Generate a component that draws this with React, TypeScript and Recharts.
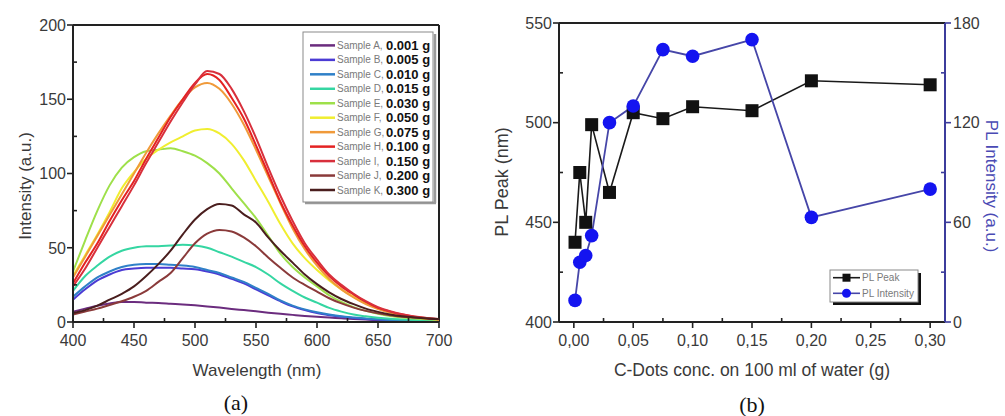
import React from 'react';
import { LineChart, ComposedChart, Line, XAxis, YAxis, ReferenceLine } from 'recharts';

// ---------- Panel (a): PL spectra ----------
const wavelengths = [400, 410, 420, 430, 440, 450, 460, 470, 480, 490, 500, 510, 520, 530, 540, 550, 560, 570, 580, 590, 600, 610, 620, 630, 640, 650, 660, 670, 680, 690, 700];
const sampleA = [7, 9, 11, 12.5, 13.5, 13.5, 13, 12.8, 12.3, 11.8, 11.2, 10.5, 9.7, 8.8, 8, 7.2, 6.3, 5.5, 4.8, 4.1, 3.5, 3, 2.5, 2, 1.6, 1.3, 1, 0.8, 0.6, 0.5, 0.4];
const sampleB = [15, 22, 28, 32, 35, 36, 36.5, 36.5, 36.5, 36, 35.5, 34, 32, 29, 26, 22, 18, 14, 10.5, 8, 6, 4.6, 3.5, 2.7, 2.1, 1.6, 1.3, 1, 0.8, 0.6, 0.5];
const sampleC = [17, 24, 30, 34, 37, 38.5, 39, 39, 38.5, 38, 37, 35, 33, 30, 27, 23, 19, 14.5, 11, 8.5, 6.5, 5, 3.8, 3, 2.3, 1.8, 1.4, 1.1, 0.9, 0.7, 0.6];
const sampleD = [21, 31, 38, 44, 48, 50, 51, 51, 51.5, 52, 51.5, 50, 47, 44, 40.5, 37, 32, 26, 21, 16.5, 13, 9.5, 7, 5, 3.8, 2.9, 2.2, 1.7, 1.3, 1, 0.8];
const sampleE = [34, 55, 75, 92, 104, 111, 115, 116, 117, 115, 112, 107, 100, 90, 80, 70, 58, 46, 37, 30, 24, 18, 13.5, 10, 7.5, 5.5, 4, 3, 2.3, 1.8, 1.4];
const sampleF = [31, 45, 59, 74, 90, 101, 110, 116, 121, 125, 129, 130, 127, 120, 109, 95, 81, 66, 53, 43, 35, 28, 22, 17, 12.5, 9, 6.5, 4.6, 3.3, 2.4, 1.8];
const sampleG = [30, 44, 58, 72, 86, 100, 114, 127, 139, 150, 158, 161, 157, 147, 133, 116, 98, 80, 63, 49, 38, 29, 22, 16.5, 12, 8.7, 6.3, 4.5, 3.2, 2.3, 1.6];
const sampleH = [26, 40, 53, 68, 82, 95, 110, 124, 138, 150, 161, 167, 163, 151, 137, 119, 100, 81, 65, 51, 40, 31, 24, 18.5, 13.5, 9.5, 7, 5, 3.6, 2.6, 1.8];
const sampleI = [24, 36, 50, 64, 78, 92, 107, 121, 135, 148, 160, 169, 167, 157, 142, 124, 104, 85, 68, 53, 42, 32, 25, 19, 14, 10, 7.2, 5.2, 3.7, 2.7, 1.9];
const sampleJ = [5, 7, 9, 11.5, 14, 17, 21, 27, 33, 43, 53, 59.5, 62, 61, 57, 51, 43.5, 36.5, 30, 25, 20.5, 16, 12.5, 9.7, 7.5, 5.8, 4.5, 3.6, 3, 2.5, 2.1];
const sampleK = [6, 8, 11, 15, 19, 24, 31, 39, 48, 59, 69, 76, 79.5, 78.5, 72.5, 67, 57, 48, 40, 32, 25.5, 20, 15.5, 12, 9, 6.8, 5, 3.8, 3, 2.4, 2];

const sampleKeys = ['A', 'B', 'C', 'D', 'E', 'F', 'G', 'H', 'I', 'J', 'K'];
const sampleSeries = [sampleA, sampleB, sampleC, sampleD, sampleE, sampleF, sampleG, sampleH, sampleI, sampleJ, sampleK];
const sampleNames = ['Sample A,', 'Sample B,', 'Sample C,', 'Sample D,', 'Sample E,', 'Sample F,', 'Sample G,', 'Sample H,', 'Sample I,', 'Sample J,', 'Sample K,'];
const sampleMasses = ['0.001 g', '0.005 g', '0.010 g', '0.015 g', '0.030 g', '0.050 g', '0.075 g', '0.100 g', '0.150 g', '0.200 g', '0.300 g'];
const sampleColors = ['#6b2c7e', '#4b3bd4', '#2f80c8', '#35d6a2', '#9ee04a', '#f0ee30', '#f09a3a', '#e42222', '#d8303c', '#8a3a3a', '#4a1e1e'];

const wlTicks = [400, 425, 450, 475, 500, 525, 550, 575, 600, 625, 650, 675, 700];
const intTicks = [0, 25, 50, 75, 100, 125, 150, 175, 200];

// ---------- Panel (b): PL peak / intensity ----------
const concentrations = [0.001, 0.005, 0.010, 0.015, 0.030, 0.050, 0.075, 0.100, 0.150, 0.200, 0.300];
const plPeak = [440, 475, 450, 499, 465, 505, 502, 508, 506, 521, 519];
const plIntensity = [13, 36, 40, 52, 120, 130, 164, 160, 170, 63, 80];
const concTicks = [0, 0.025, 0.05, 0.075, 0.1, 0.125, 0.15, 0.175, 0.2, 0.225, 0.25, 0.275, 0.3];
const peakTicks = [400, 425, 450, 475, 500, 525, 550];
const plIntTicks = [0, 30, 60, 90, 120, 150, 180];

const spectraData = wavelengths.map((wl, i) => {
  const row: any = { wl };
  sampleKeys.forEach((k, s) => { row[k] = sampleSeries[s][i]; });
  return row;
});
const plData = concentrations.map((c, i) => ({ c, peak: plPeak[i], inten: plIntensity[i] }));

const FONT = 'Arial, "Liberation Sans", Helvetica, sans-serif';
const SERIF = '"Liberation Serif", "Times New Roman", serif';
const AXIS = '#222';
const TEXT = '#3a3a3a';
const BLUE_AXIS = '#3c3c9c';
const TICK_SIZE = 6;
const TICK_MARGIN = 3;

function makeTick(orient: string, isMajor: (v: number) => boolean, fmt: (v: number) => string, lineColor: string = AXIS) {
  return function Tick(props: any) {
    const { x, y, payload } = props;
    const v = payload.value;
    const major = isMajor(v);
    const off = TICK_SIZE + TICK_MARGIN;
    if (orient === 'bottom') {
      const ay = y - off;
      return (
        <g>
          <line x1={x} x2={x} y1={major ? ay : ay - 4} y2={major ? ay + 6 : ay} stroke={lineColor} strokeWidth={1.6} />
          {major ? <text x={x} y={ay + 24} textAnchor="middle" fontSize={16} fill={TEXT} fontFamily={FONT}>{fmt(v)}</text> : null}
        </g>
      );
    }
    if (orient === 'left') {
      const ax = x + off;
      return (
        <g>
          <line y1={y} y2={y} x1={major ? ax - 6 : ax} x2={major ? ax : ax + 4} stroke={lineColor} strokeWidth={1.6} />
          {major ? <text x={ax - 7} y={y} dy="0.36em" textAnchor="end" fontSize={16} fill={TEXT} fontFamily={FONT}>{fmt(v)}</text> : null}
        </g>
      );
    }
    const ax = x - off;
    return (
      <g>
        <line y1={y} y2={y} x1={major ? ax : ax - 4} x2={major ? ax + 6 : ax} stroke={lineColor} strokeWidth={1.6} />
        {major ? <text x={ax + 8} y={y} dy="0.36em" textAnchor="start" fontSize={16} fill={TEXT} fontFamily={FONT}>{fmt(v)}</text> : null}
      </g>
    );
  };
}

const wlTick = makeTick('bottom', (v) => v % 50 === 0, (v) => String(v));
const intTick = makeTick('left', (v) => v % 50 === 0, (v) => String(v));
const concTick = makeTick('bottom', (v) => Math.round(v * 1000) % 50 === 0, (v) => v.toFixed(2).replace('.', ','));
const peakTick = makeTick('left', (v) => v % 50 === 0, (v) => String(v));
const plIntTick = makeTick('right', (v) => v % 60 === 0, (v) => String(v), BLUE_AXIS);

const SquareDot = (p: any) => {
  if (p.cx == null || p.cy == null) return null;
  return <rect key={`sq-${p.index}`} x={p.cx - 6.5} y={p.cy - 6.5} width={13} height={13} fill="#111" />;
};
const CircleDot = (p: any) => {
  if (p.cx == null || p.cy == null) return null;
  return <circle key={`ci-${p.index}`} cx={p.cx} cy={p.cy} r={6.8} fill="#1414f0" />;
};

export default function App() {
  return (
    <div style={{ position: 'absolute', left: 0, top: 0, width: 1005, height: 416, background: '#fff', overflow: 'hidden' }}>
      <div style={{ position: 'absolute', left: 0, top: 0 }}>
        <LineChart width={460} height={416} data={spectraData} margin={{ top: 25, right: 21, bottom: 64, left: 23 }}>
          <XAxis dataKey="wl" type="number" domain={[400, 700]} ticks={wlTicks} interval={0} height={30}
            axisLine={{ stroke: AXIS, strokeWidth: 2 }} tickLine={false} tick={wlTick} tickSize={TICK_SIZE} tickMargin={TICK_MARGIN} />
          <YAxis type="number" domain={[0, 200]} ticks={intTicks} interval={0} width={50}
            axisLine={{ stroke: AXIS, strokeWidth: 2 }} tickLine={false} tick={intTick} tickSize={TICK_SIZE} tickMargin={TICK_MARGIN} />
          <ReferenceLine y={200} stroke={AXIS} strokeWidth={2} />
          <ReferenceLine x={700} stroke={AXIS} strokeWidth={2} />
          {sampleKeys.map((k, s) => (
            <Line key={k} dataKey={k} type="monotone" stroke={sampleColors[s]} strokeWidth={2} dot={false} isAnimationActive={false} />
          ))}
        </LineChart>
      </div>
      <div style={{ position: 'absolute', left: 490, top: 0 }}>
        <ComposedChart width={515} height={416} data={plData} margin={{ top: 23, right: 10, bottom: 64, left: 19 }}>
          <XAxis dataKey="c" type="number" domain={[-0.0125, 0.3125]} ticks={concTicks} interval={0} height={30} allowDataOverflow
            axisLine={{ stroke: AXIS, strokeWidth: 2 }} tickLine={false} tick={concTick} tickSize={TICK_SIZE} tickMargin={TICK_MARGIN} />
          <YAxis yAxisId="left" orientation="left" type="number" domain={[400, 550]} ticks={peakTicks} interval={0} width={50}
            axisLine={{ stroke: AXIS, strokeWidth: 2 }} tickLine={false} tick={peakTick} tickSize={TICK_SIZE} tickMargin={TICK_MARGIN} />
          <YAxis yAxisId="right" orientation="right" type="number" domain={[0, 180]} ticks={plIntTicks} interval={0} width={50}
            axisLine={{ stroke: BLUE_AXIS, strokeWidth: 2 }} tickLine={false} tick={plIntTick} tickSize={TICK_SIZE} tickMargin={TICK_MARGIN} />
          <ReferenceLine yAxisId="left" y={550} stroke={AXIS} strokeWidth={2} />
          <Line yAxisId="left" dataKey="peak" type="linear" stroke="#1a1a1a" strokeWidth={1.6} dot={SquareDot} isAnimationActive={false} />
          <Line yAxisId="right" dataKey="inten" type="linear" stroke="#4646a8" strokeWidth={1.8} dot={CircleDot} isAnimationActive={false} />
        </ComposedChart>
      </div>
      <svg width={1005} height={416} style={{ position: 'absolute', left: 0, top: 0, pointerEvents: 'none' }}>
        {/* panel (a) legend */}
        <line x1={435} y1={34} x2={435} y2={203} stroke="#9a9a9a" strokeWidth={2.5} />
        <line x1={305} y1={203} x2={436} y2={203} stroke="#9a9a9a" strokeWidth={2.5} />
        <rect x={303} y={32} width={130} height={170} fill="#fff" stroke="#8a8a8a" strokeWidth={1} />
        {sampleNames.map((nm, i) => {
          const y = 45.4 + i * 14.46;
          return (
            <g key={nm}>
              <line x1={310} x2={335} y1={y} y2={y} stroke={sampleColors[i]} strokeWidth={2.5} />
              <text x={337} y={y + 3.5} fontSize={10} fill="#7a7a7a" fontFamily={FONT}>{nm}</text>
              <text x={386} y={y + 4.6} fontSize={13} fontWeight="bold" fill="#111" fontFamily={FONT}>{sampleMasses[i]}</text>
            </g>
          );
        })}
        {/* panel (a) titles */}
        <text transform="translate(25,186) rotate(-90)" textAnchor="middle" dy="0.35em" fontSize={17} fill={TEXT} fontFamily={FONT}>Intensity (a.u.)</text>
        <text x={257} y={376} textAnchor="middle" fontSize={17} fill={TEXT} fontFamily={FONT}>Wavelength (nm)</text>
        <text x={236} y={410} textAnchor="middle" fontSize={22} fill="#111" fontFamily={SERIF}>(a)</text>

        {/* panel (b) legend */}
        <line x1={919.5} y1={273} x2={919.5} y2={304.5} stroke="#111" strokeWidth={3} />
        <line x1={833} y1={303.5} x2={921} y2={303.5} stroke="#111" strokeWidth={3} />
        <rect x={830} y={270} width={88} height={32} fill="#fff" stroke="#8a8a8a" strokeWidth={1} />
        <line x1={833} x2={860} y1={277.7} y2={277.7} stroke="#1a1a1a" strokeWidth={1.6} />
        <rect x={842.5} y={273.7} width={8} height={8} fill="#111" />
        <text x={862} y={281} fontSize={10} fill="#7a7a7a" fontFamily={FONT}>PL Peak</text>
        <line x1={833} x2={860} y1={293.3} y2={293.3} stroke="#4646a8" strokeWidth={1.6} />
        <circle cx={846.5} cy={293.3} r={4.5} fill="#1414f0" />
        <text x={862} y={296.6} fontSize={10} fill="#7a7a7a" fontFamily={FONT}>PL Intensity</text>

        {/* panel (b) titles */}
        <text transform="translate(502,182) rotate(-90)" textAnchor="middle" dy="0.35em" fontSize={18} fill={TEXT} fontFamily={FONT}>PL Peak (nm)</text>
        <text transform="translate(992,186) rotate(90)" textAnchor="middle" dy="0.35em" fontSize={17} fill="#4a4ab4" fontFamily={FONT}>PL Intensity (a.u.)</text>
        <text x={752} y={376} textAnchor="middle" fontSize={17.5} fill={TEXT} fontFamily={FONT}>C-Dots conc. on 100 ml of water (g)</text>
        <text x={752} y={412} textAnchor="middle" fontSize={22} fill="#111" fontFamily={SERIF}>(b)</text>
      </svg>
    </div>
  );
}
